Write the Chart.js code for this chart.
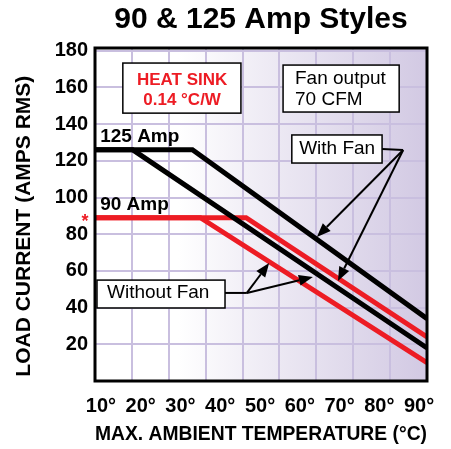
<!DOCTYPE html>
<html><head><meta charset="utf-8">
<script src="https://cdn.jsdelivr.net/npm/chart.js@4/dist/chart.umd.min.js"></script>
<style>html,body{margin:0;padding:0;background:#fff}</style>
</head><body>
<canvas id="c" width="451" height="449"></canvas>
<script>
// ---- data ----
const xTickValues = [10, 20, 30, 40, 50, 60, 70, 80, 90];
const yTickValues = [20, 40, 60, 80, 100, 120, 140, 160, 180];
const temp125Fan   = [8.5, 33, 92];
const amps125Fan   = [126, 126, 34];
const temp125NoFan = [8.5, 18, 92];
const amps125NoFan = [126, 126, 18];
const temp90Fan    = [8.5, 46.5, 92];
const amps90Fan    = [89, 89, 24];
const temp90NoFan  = [8.5, 35, 92];
const amps90NoFan  = [89, 89, 10];

const FONT = '"Liberation Sans", Arial, Helvetica, sans-serif';
const pts = (xs, ys) => xs.map((x, i) => ({x, y: ys[i]}));

const RED = '#ed1c24';
const GRID = '#c9bfdf';

const bgPlugin = {
  id: 'bg',
  beforeDraw(chart) {
    const {ctx, chartArea: a} = chart;
    const g = ctx.createLinearGradient(a.left, 0, a.right, 0);
    g.addColorStop(0, '#ffffff');
    g.addColorStop(0.25, '#ffffff');
    g.addColorStop(0.5, '#efecf5');
    g.addColorStop(1, '#d2c9e3');
    ctx.save();
    ctx.fillStyle = g;
    ctx.fillRect(a.left, a.top, a.right - a.left, a.bottom - a.top);
    ctx.restore();
  }
};

const annoPlugin = {
  id: 'anno',
  afterDatasetsDraw(chart) {
    const {ctx, chartArea: a, scales} = chart;
    const X = v => scales.x2.getPixelForValue(v);
    const Y = v => scales.y.getPixelForValue(v);
    ctx.save();
    // frame
    ctx.strokeStyle = '#000';
    ctx.lineWidth = 3;
    ctx.strokeRect(a.left, a.top, a.right - a.left, a.bottom - a.top);

    function box(x0, y0, x1, y1) {
      const px0 = X(x0), py0 = Y(y0), px1 = X(x1), py1 = Y(y1);
      ctx.fillStyle = '#fff';
      ctx.fillRect(px0, py0, px1 - px0, py1 - py0);
      ctx.lineWidth = 1.5;
      ctx.strokeStyle = '#000';
      ctx.strokeRect(px0, py0, px1 - px0, py1 - py0);
    }
    function text(t, x, y, font, color, align) {
      ctx.font = font;
      ctx.fillStyle = color;
      ctx.textAlign = align || 'center';
      ctx.textBaseline = 'middle';
      ctx.fillText(t, X(x), Y(y));
    }
    function seg(x0, y0, x1, y1) {
      ctx.strokeStyle = '#000';
      ctx.lineWidth = 2;
      ctx.beginPath();
      ctx.moveTo(X(x0), Y(y0));
      ctx.lineTo(X(x1), Y(y1));
      ctx.stroke();
    }
    function arrow(x0, y0, x1, y1) {
      const px0 = X(x0), py0 = Y(y0), px1 = X(x1), py1 = Y(y1);
      const ang = Math.atan2(py1 - py0, px1 - px0);
      const L = 14, W = 5.5;
      const bx = px1 - L * Math.cos(ang), by = py1 - L * Math.sin(ang);
      ctx.strokeStyle = '#000';
      ctx.lineWidth = 2;
      ctx.beginPath();
      ctx.moveTo(px0, py0);
      ctx.lineTo(bx, by);
      ctx.stroke();
      ctx.fillStyle = '#000';
      ctx.beginPath();
      ctx.moveTo(px1, py1);
      ctx.lineTo(bx + W * Math.sin(ang), by - W * Math.cos(ang));
      ctx.lineTo(bx - W * Math.sin(ang), by + W * Math.cos(ang));
      ctx.closePath();
      ctx.fill();
    }

    // Heat sink box
    box(15.5, 173.3, 45.2, 146.0);
    text('HEAT SINK', 30.4, 164.0, 'bold 17px ' + FONT, RED);
    text('0.14 °C/W', 30.4, 153.1, 'bold 17px ' + FONT, RED);

    // Fan output box
    box(55.8, 172.2, 85.0, 146.6);
    text('Fan output', 58.8, 165.0, '19px ' + FONT, '#000', 'left');
    text('70 CFM', 58.8, 153.1, '19px ' + FONT, '#000', 'left');

    // With Fan
    seg(80.7, 126.4, 86.0, 125.9);
    arrow(86.0, 125.9, 64.3, 78.5);
    arrow(86.0, 125.9, 69.6, 54.5);
    box(58.0, 134.1, 80.7, 118.8);
    text('With Fan', 69.4, 126.4, '19px ' + FONT, '#000');

    // Without Fan
    seg(41.2, 48.0, 46.7, 48.0);
    arrow(46.7, 48.0, 52.3, 64.3);
    arrow(46.7, 48.0, 63.3, 56.7);
    box(9.0, 55.0, 41.2, 39.8);
    text('Without Fan', 24.4, 48.0, '19px ' + FONT, '#000');

    // curve labels
    text('125 Amp', 9.8, 133.0, 'bold 19px ' + FONT, '#000', 'left');
    text('90 Amp', 9.8, 95.9, 'bold 19px ' + FONT, '#000', 'left');

    // red asterisk at 90 A level, left of the axis
    ctx.font = 'bold 18px ' + FONT;
    ctx.fillStyle = RED;
    ctx.textAlign = 'center';
    ctx.textBaseline = 'middle';
    ctx.fillText('*', a.left - 10, Y(89) + 4);
    ctx.restore();
  }
};

new Chart(document.getElementById('c'), {
  type: 'line',
  data: {
    datasets: [
      {label: '125 Amp with fan', data: pts(temp125Fan, amps125Fan), borderColor: '#000'},
      {label: '125 Amp without fan', data: pts(temp125NoFan, amps125NoFan), borderColor: '#000'},
      {label: '90 Amp with fan', data: pts(temp90Fan, amps90Fan), borderColor: RED},
      {label: '90 Amp without fan', data: pts(temp90NoFan, amps90NoFan), borderColor: RED}
    ].map(d => Object.assign(d, {xAxisID: 'x2', yAxisID: 'y', borderWidth: 5, pointRadius: 0, tension: 0, fill: false, borderJoinStyle: 'miter'}))
  },
  options: {
    responsive: false,
    animation: false,
    layout: {padding: {left: 0, right: 24, top: 0, bottom: 0}},
    plugins: {
      legend: {display: false},
      tooltip: {enabled: false},
      title: {
        display: true,
        text: '90 & 125 Amp Styles',
        fullSize: false,
        color: '#000',
        font: {family: FONT, size: 30, weight: 'bold', lineHeight: 1.2},
        padding: {top: 2, bottom: 10}
      }
    },
    scales: {
      xg: {
        type: 'linear', position: 'top', min: 0, max: 90,
        ticks: {display: false, stepSize: 10},
        grid: {color: GRID, lineWidth: 2, drawTicks: false},
        border: {display: false},
        afterFit: s => { s.height = 0; }
      },
      x2: {
        type: 'linear', position: 'bottom', min: 8.5, max: 92,
        afterBuildTicks: s => { s.ticks = xTickValues.map(v => ({value: v})); },
        ticks: {
          color: '#000', padding: 13,
          font: {family: FONT, size: 20, weight: 'bold'},
          callback: v => v + '°', maxRotation: 0, autoSkip: false
        },
        grid: {display: false, drawTicks: false},
        border: {display: false},
        title: {
          display: true, text: 'MAX. AMBIENT TEMPERATURE (°C)', color: '#000',
          font: {family: FONT, size: 21, weight: 'bold', lineHeight: 1.2},
          padding: {top: 0, bottom: 2}
        },
        afterFit: s => { s.height = 68; }
      },
      y: {
        type: 'linear', position: 'left', min: 0, max: 181.5,
        afterBuildTicks: s => { s.ticks = yTickValues.map(v => ({value: v})); },
        ticks: {
          color: '#000', padding: 7,
          font: {family: FONT, size: 20, weight: 'bold'}
        },
        grid: {color: GRID, lineWidth: 2, drawTicks: false},
        border: {display: false},
        title: {
          display: true, text: 'LOAD CURRENT (AMPS RMS)    ', color: '#000',
          font: {family: FONT, size: 21, weight: 'bold', lineHeight: 1.2},
          padding: {top: 12, bottom: 0}
        },
        afterFit: s => { s.width = 95; }
      }
    }
  },
  plugins: [bgPlugin, annoPlugin]
});
</script>
</body></html>
